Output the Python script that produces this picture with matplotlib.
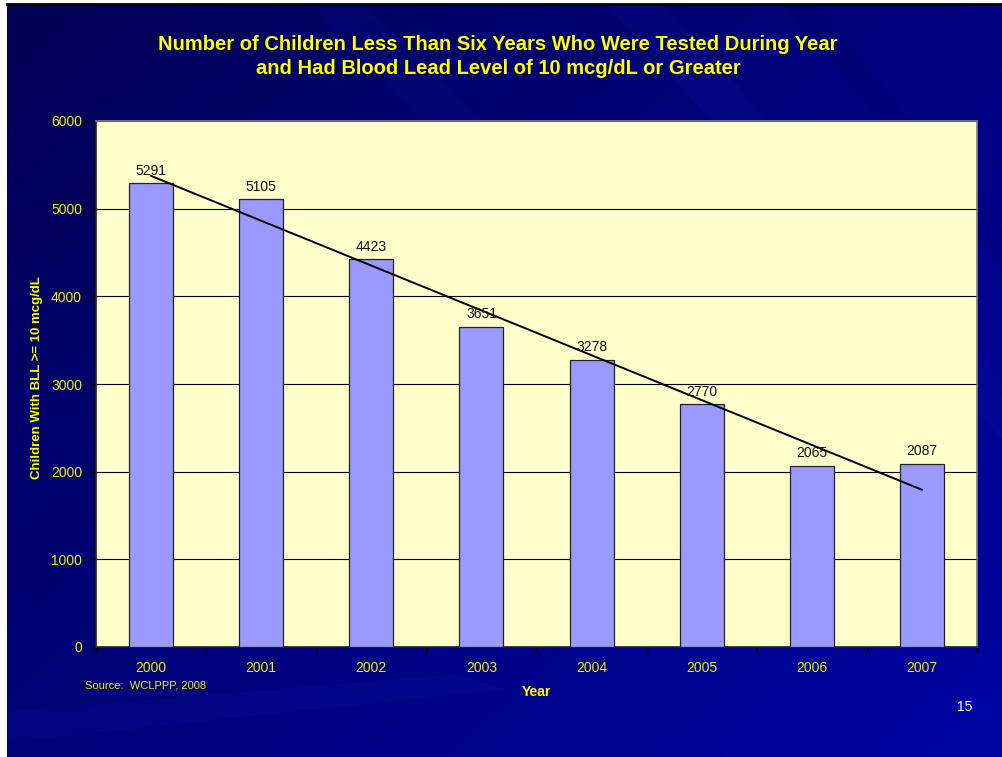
import numpy as np
import matplotlib
matplotlib.use("Agg")
import matplotlib.pyplot as plt
from matplotlib.patches import Polygon

plt.rcParams["font.family"] = ["Liberation Sans", "DejaVu Sans"]

years = ["2000", "2001", "2002", "2003", "2004", "2005", "2006", "2007"]
children = [5291, 5105, 4423, 3651, 3278, 2770, 2065, 2087]
y_ticks = [0, 1000, 2000, 3000, 4000, 5000, 6000]

title = ("Number of Children Less Than Six Years Who Were Tested During Year\n"
         "and Had Blood Lead Level of 10 mcg/dL or Greater")
y_label = "Children With BLL >= 10 mcg/dL"
x_label = "Year"
source = "Source:  WCLPPP, 2008"
page_no = "15"

YELLOW = "#FFFF00"
TICK_YELLOW = "#F0F000"

fig = plt.figure(figsize=(10.03, 7.57), dpi=100, facecolor="white")

# slide background: dark navy gradient with a few diagonal streaks
bg = fig.add_axes([7 / 1003, 0, 1 - 7 / 1003, 1 - 4 / 757])
bg.set_xlim(0, 1)
bg.set_ylim(0, 1)
gx, gy = np.meshgrid(np.linspace(0, 1, 300), np.linspace(1, 0, 300))
t = np.clip(0.55 * gx + 0.45 * (1 - gy), 0, 1)
dark = np.array([0.0, 0.0, 0.33])
light = np.array([0.0, 0.02, 0.64])
img = dark[None, None, :] * (1 - t[..., None]) + light[None, None, :] * t[..., None]
bg.imshow(img, extent=[0, 1, 0, 1], aspect="auto", zorder=0)
streaks = [
    [(0.60, 1.0), (0.66, 1.0), (1.0, 0.50), (1.0, 0.42)],
    [(0.78, 1.0), (0.81, 1.0), (1.0, 0.70), (1.0, 0.65)],
    [(0.30, 1.0), (0.36, 1.0), (0.70, 0.55), (0.64, 0.55)],
    [(0.0, 0.72), (0.0, 0.64), (0.35, 0.95), (0.40, 1.0)],
    [(0.0, 0.06), (0.0, 0.02), (0.50, 0.09), (0.45, 0.11)],
]
for i, pts in enumerate(streaks):
    col = (0.1, 0.15, 0.75) if i % 2 == 0 else (0.0, 0.0, 0.25)
    bg.add_patch(Polygon(pts, closed=True, facecolor=col, alpha=0.1,
                         edgecolor="none", zorder=1))
bg.axis("off")
fig.add_artist(plt.Line2D([7 / 1003, 1], [1 - 4 / 757, 1 - 4 / 757],
                          color="black", lw=2, transform=fig.transFigure))

# chart
ax = fig.add_axes([96 / 1003, 1 - 647 / 757, 881 / 1003, 526 / 757])
ax.set_facecolor("#FFFFCC")
x = np.arange(len(years))
ax.bar(x, children, width=0.4, color="#9999FF", edgecolor="#222222",
       linewidth=0.9, zorder=3)
for xi, v in zip(x, children):
    ax.annotate(str(v), (xi, v), xytext=(0, 4), textcoords="offset points",
                ha="center", va="bottom", fontsize=10, color="#111111",
                zorder=5)

slope, intercept = np.polyfit(x, children, 1)
ax.plot([x[0], x[-1]], [intercept + slope * x[0], intercept + slope * x[-1]],
        color="black", lw=1.4, zorder=4)

ax.set_xlim(-0.5, len(years) - 0.5)
ax.set_ylim(0, 6000)
ax.set_yticks(y_ticks)
ax.yaxis.grid(True, color="black", lw=0.8, zorder=1)
ax.set_axisbelow(True)
ax.set_xticks(x)
ax.set_xticklabels(years)
ax.set_xticks(np.arange(-0.5, len(years)), minor=True)
ax.tick_params(axis="x", which="major", length=0, pad=10, labelsize=10,
               labelcolor=TICK_YELLOW)
ax.tick_params(axis="x", which="minor", length=4, color="black", width=1)
ax.tick_params(axis="y", length=4, color="black", width=1, pad=6,
               labelsize=10, labelcolor=TICK_YELLOW)
for side in ["left", "bottom"]:
    ax.spines[side].set_color("#222222")
    ax.spines[side].set_linewidth(1.2)
for side in ["top", "right"]:
    ax.spines[side].set_color("#808080")
    ax.spines[side].set_linewidth(1.2)

fig.text(498 / 1003, 1 - 56.5 / 757, title, ha="center", va="center",
         fontsize=14.5, fontweight="bold", color=YELLOW, linespacing=1.4)
fig.text(37 / 1003, 1 - 378 / 757, y_label, rotation=90, ha="center",
         va="center", fontsize=9.5, fontweight="bold", color=YELLOW)
fig.text(536 / 1003, 1 - 692 / 757, x_label, ha="center", va="center",
         fontsize=10, fontweight="bold", color=YELLOW)
fig.text(85 / 1003, 1 - 686 / 757, source, ha="left", va="center",
         fontsize=8, color=TICK_YELLOW)
fig.text(965 / 1003, 1 - 707 / 757, page_no, ha="center", va="center",
         fontsize=10, color="white")

fig.savefig("out.png", dpi=100, facecolor=fig.get_facecolor())
